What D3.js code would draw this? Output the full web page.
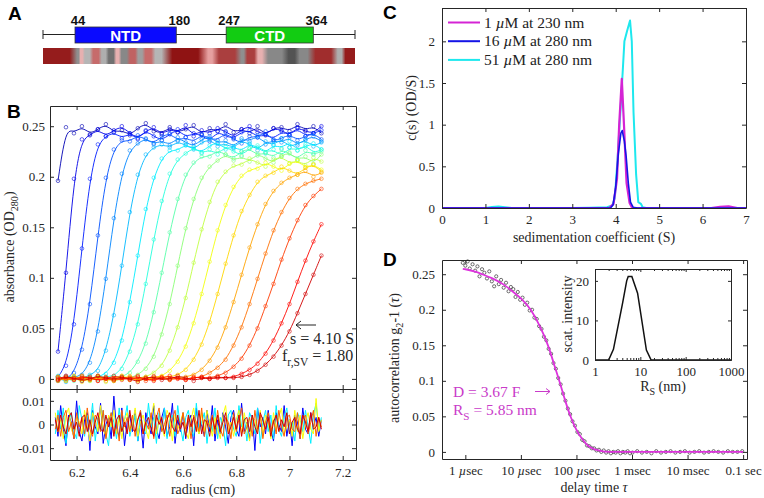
<!DOCTYPE html>
<html>
<head>
<meta charset="utf-8">
<script src="https://cdn.jsdelivr.net/npm/d3@7"></script>
<style>
  body { margin: 0; background: #fff; }
  svg { display: block; }
</style>
</head>
<body>
<div id="fig"></div>
<script>
// ---------- A: domain map + disorder bar ----------
const proteinLength = 420
const domainNames = ["NTD", "CTD"]
const domainStart = [44, 247]
const domainEnd = [180, 364]
const disorderBreaks = [1, 46, 50, 55, 66, 78, 87, 98, 104, 116, 127, 136, 149, 163, 221, 230, 266, 272, 288, 297, 328, 342, 360, 395, 404, 420]
const disorderScore = [0.9, -0.45, 0.1, -0.2, 0.45, -0.25, -0.65, 0.1, -0.5, 0.5, -0.35, 0.45, -0.2, 0.95, 0.15, 0.7, -0.45, 0.7, 0.1, -0.5, -0.85, -0.5, 0.8, -0.25, 0.9]

// ---------- B: sedimentation velocity scans (absorbance in milli-OD) ----------
const scanRadius = [6.13, 6.16, 6.19, 6.22, 6.25, 6.28, 6.31, 6.34, 6.37, 6.40, 6.43, 6.46, 6.49, 6.52, 6.55, 6.58, 6.61,
  6.64, 6.67, 6.70, 6.73, 6.76, 6.79, 6.82, 6.85, 6.88, 6.91, 6.94, 6.97, 7.00, 7.03, 7.06, 7.09, 7.12]
const scanMilliOD = [
  [196,249,243,250,242,247,252,244,246,241,248,253,245,243,249,244,247,251,242,248,245,252,244,247,243,250,241,248,249,245,252,246,250,243],
  [27,105,198,237,241,247,240,246,250,243,238,245,249,242,247,244,251,240,246,243,248,245,239,247,250,244,242,248,246,241,249,245,243,250],
  [2,13,54,129,198,232,240,244,238,243,237,246,240,236,242,247,239,243,241,235,245,240,238,244,246,239,242,237,245,241,248,240,243,246],
  [2,-1,6,29,74,142,199,227,236,235,241,237,233,240,243,236,239,234,242,238,236,244,237,233,240,239,245,235,238,242,236,240,243,237],
  [-2,3,1,4,16,47,99,159,203,226,233,238,232,236,231,239,234,230,237,240,233,236,229,238,235,241,232,236,234,239,231,237,240,235],
  [1,-3,2,0,4,8,28,63,112,165,202,222,229,232,229,235,231,227,234,237,230,233,228,236,232,226,235,231,238,229,233,236,230,234],
  [3,-1,2,-2,1,2,5,16,38,76,122,168,199,218,226,226,232,228,224,231,234,227,230,225,233,229,223,232,228,235,226,230,233,227],
  [-1,2,0,3,-2,1,2,3,10,27,54,94,138,176,203,217,223,229,223,227,222,230,225,221,228,231,224,227,220,229,226,232,223,227],
  [2,0,-2,1,3,-1,0,2,2,6,17,35,66,105,145,178,202,214,220,220,226,222,218,225,228,221,224,219,227,223,217,226,222,225],
  [1,-2,2,0,-1,3,1,-2,0,1,4,10,22,44,74,112,149,178,199,210,216,222,216,220,215,223,218,214,221,224,217,220,213,222],
  [-2,1,3,-1,0,2,-3,1,2,-1,1,2,6,13,28,51,80,115,148,175,195,205,211,212,218,214,210,217,220,213,216,211,219,215],
  [2,-1,0,3,-2,1,0,-1,3,1,-2,0,1,3,8,17,32,55,84,116,147,172,190,201,207,208,214,210,206,213,216,209,212,207],
  [-1,2,1,-3,0,2,1,-2,0,3,-1,1,0,2,2,4,9,19,34,56,84,114,142,166,182,195,201,204,210,206,202,209,212,205],
  [1,-2,3,0,-1,2,-2,1,3,-1,0,2,-1,1,0,1,2,4,9,18,31,51,76,103,130,153,173,186,194,199,202,206,200,204],
  [-2,1,0,2,-1,3,0,-2,1,2,-1,0,3,1,-1,1,0,1,2,6,11,19,33,51,74,99,124,147,165,179,188,193,196,198],
  [2,0,-1,3,1,-2,2,0,-1,1,3,-2,0,2,-1,1,-1,2,1,1,3,6,12,20,33,50,72,94,118,139,157,172,181,188],
  [0,3,-1,1,2,-2,0,3,1,-1,2,0,-2,1,3,0,-1,1,2,0,1,1,2,5,9,15,25,38,55,74,96,117,136,153],
  [-1,2,1,-2,0,3,1,-1,2,0,-3,1,2,-1,0,3,1,-2,1,0,2,1,1,2,4,8,14,22,33,47,65,84,103,122]
]
// residuals (milli-OD) on a 0.01 cm grid starting at 6.12 cm
const residualStart = 6.12, residualStep = 0.01
const resBlue = [3,-5,8,-2,-9,4,1,-6,10,-3,-7,2,5,-11,6,-1,-4,9,-8,0,3,-6,12,-2,-5,7,-9,1,4,-3,6,-7,2,-10,5,0,-4,8,-2,-6,3,7,-5,-1,9,-8,2,-3,5,-6,1,4,-9,7,-2,0,-5,6,-3,8,-7,2,-4,5,-1,-8,3,6,-2,-5,9,-3,1,-6,4,-11,7,-1,3,-4,6,-2,-7,5,0,-3,8,-5,2,-9,4,1,-6,7,-2,-4,5,-1,3,-5,2]
const resCyan = [-4,6,-2,7,-8,1,5,-3,-6,8,2,-5,4,-1,9,-7,3,-2,6,-4,-9,5,1,-6,7,-3,2,8,-5,0,4,-7,6,-2,-4,9,-1,3,-8,5,-3,7,-6,2,4,-5,8,-1,-7,3,6,-2,-5,9,-4,1,5,-8,2,-3,7,-6,3,0,-9,4,6,-2,-5,8,-1,3,-7,5,2,-4,7,-8,1,6,-3,4,-6,8,-2,-5,3,7,-4,1,-7,5,2,-3,6,-1,-8,4,9,-2,3]
const resYellow = [5,-3,2,-6,4,7,-2,-5,3,1,-4,6,-1,-7,5,2,-3,8,-2,-5,4,-1,6,-4,3,-6,2,5,-3,0,7,-5,1,4,-2,-6,3,9,-4,2,-1,-5,6,3,-7,4,-2,1,5,-3,-6,2,7,-1,-4,5,-3,6,1,-5,3,-2,-6,4,8,-3,1,-5,2,6,-4,5,-1,-7,3,2,-3,6,-5,4,1,-6,5,-2,3,7,-4,-1,2,-5,6,-3,4,-6,1,5,-2,-4,11,-3,2]
const resOrange = [-2,4,-5,3,6,-3,1,-6,5,-1,3,-4,7,-2,-5,4,2,-3,6,-6,1,5,-4,2,-7,6,-1,3,-3,4,-5,2,6,-4,1,-2,5,-6,3,7,-3,0,4,-5,2,6,-4,-1,5,-2,3,-6,4,1,-3,7,-5,2,-1,4,-4,6,-2,-5,3,1,-6,5,-3,2,7,-4,-1,3,-5,6,-2,4,-6,1,5,-3,2,-4,6,-1,-5,3,4,-2,-3,5,-6,2,4,-4,1,6,-5,3,-1]
const resRed = [2,-3,4,-1,-4,3,5,-2,1,-5,3,4,-3,2,-4,1,5,-2,-3,4,-1,3,-5,2,4,-3,1,-4,6,-2,-3,2,5,-4,1,3,-2,-5,4,0,3,-4,2,5,-1,-3,4,-2,1,-5,4,-1,3,-3,6,-4,2,1,-5,3,-2,4,-3,1,5,-4,-1,3,-2,4,-5,2,3,-3,4,-1,-4,5,2,-2,3,-5,1,4,-3,2,-1,5,-4,1,3,-2,-4,4,1,-3,5,-2,-1,3,-2]
const residualSeries = [resBlue, resCyan, resYellow, resOrange, resRed]

// ---------- C: c(s) distributions ----------
const csLabels = ["1 µM at 230 nm", "16 µM at 280 nm", "51 µM at 280 nm"]
const csMagentaS = [0, 3.85, 3.95, 4.03, 4.08, 4.14, 4.19, 4.25, 4.32, 4.38, 6.2, 6.4, 6.6, 6.8, 7]
const csMagentaC = [0, 0, 0.05, 0.35, 1.0, 1.55, 1.0, 0.3, 0.06, 0, 0, 0.015, 0.02, 0, 0]
const csBlueS = [0, 3.88, 3.94, 4.0, 4.06, 4.12, 4.15, 4.2, 4.24, 4.29, 4.34, 4.4, 4.5, 7]
const csBlueC = [0, 0, 0.04, 0.25, 0.65, 0.9, 0.93, 0.8, 0.62, 0.3, 0.07, 0.01, 0, 0]
const csCyanS = [0, 1.0, 1.15, 1.3, 1.45, 1.6, 3.0, 3.4, 3.8, 3.92, 3.98, 4.05, 4.13, 4.2, 4.26, 4.33, 4.37, 4.41, 4.47, 4.52, 4.58, 4.62, 4.7, 7]
const csCyanC = [0, 0, 0.012, 0.018, 0.01, 0, 0, 0.004, 0.01, 0.03, 0.12, 0.65, 1.35, 2.0, 2.12, 2.25, 2.0, 1.15, 0.4, 0.07, 0.05, 0.01, 0, 0]

// ---------- D: DLS autocorrelation ----------
const dlsTauUs = [0.9,1.0,1.1,1.2,1.35,1.5,1.65,1.8,2.0,2.2,2.45,2.7,3.0,3.3,3.6,4.0,4.4,4.9,5.4,6.0,
  6.6,7.3,8.0,8.8,9.7,10.7,11.8,13,14.4,15.9,17.5,19.3,21.3,23.5,26,28.7,31.6,35,38.6,42.6,
  47,52,57.4,63.4,70,77,85,94,104,115,127,140,155,171,189,208,230,254,280,310,
  342,378,417,460,508,560,620,685,757,836,923,1020,1240,1510,1840,2240,2730,3330,4060,4950,
  6030,7350,8950,10900,13300,16200,19800,24100,29400,35800,43700,53200,64900,79100,96400]
const dlsG2 = [.266,.262,.268,.258,.264,.255,.261,.247,.257,.252,.244,.254,.240,.233,.247,.236,.242,.231,.238,.226,
  .232,.229,.218,.225,.214,.217,.207,.210,.199,.200,.189,.187,.177,.173,.162,.157,.145,.138,.125,.117,
  .104,.095,.082,.072,.061,.053,.043,.037,.028,.025,.017,.015,.009,.008,.005,.005,.002,.003,.000,.002,
  -.001,.001,-.002,.000,-.001,.001,-.002,.000,-.001,.001,-.002,-.001,.001,-.001,.000,-.002,.001,-.001,.000,.001,
  -.001,.000,.001,-.001,.000,.001,-.001,.000,.001,.000,-.001,.001,.000,.000,.001]
const fitTauUs = [0.9,1,1.5,2,3,5,7,10,15,20,25,32,40,50,64,80,100,130,160,200,250,320,500,1000,100000]
const fitG2 = [.2575,.257,.2535,.25,.2445,.235,.226,.216,.2,.183,.167,.146,.122,.098,.07,.048,.031,.017,.009,.0045,.002,.0005,0,0,0]
const tauTickUs = [1, 10, 100, 1000, 10000, 100000]
const tauTickLabels = ["1 µsec", "10 µsec", "100 µsec", "1 msec", "10 msec", "0.1 sec"]
const sizeRs = [1, 2.0, 2.55, 4.05, 5.0, 5.4, 6.5, 8.7, 13.6, 17.3, 1000]
const sizeIntensity = [0, 0, 2.7, 14.3, 20, 21.1, 21.1, 16.9, 2.5, 0, 0]

// ---------------------------------------------------------------
const W = 764, H = 498
const serif = "'Liberation Serif', 'Times New Roman', serif"
const sans = "'Liberation Sans', Arial, sans-serif"
const axisColor = "#262626"
const magenta = "#dd33dd"

const svg = d3.select("#fig").append("svg").attr("width", W).attr("height", H)
svg.append("rect").attr("width", W).attr("height", H).attr("fill", "#fff")
const defs = svg.append("defs")

function jet(t) {
  const c = v => Math.round(255 * Math.max(0, Math.min(1, v)))
  return d3.rgb(c(1.5 - Math.abs(4 * t - 3)), c(1.5 - Math.abs(4 * t - 2)), c(1.5 - Math.abs(4 * t - 1))).formatHex()
}

// text with subscripts / italics: parts = [[text, kind]]
function rich(t, parts, size) {
  let shift = 0
  parts.forEach(([s, kind]) => {
    const ts = t.append("tspan").text(s)
    const want = kind === "sub" ? size * 0.3 : 0
    if (want !== shift) { ts.attr("dy", want - shift); shift = want }
    if (kind === "sub") ts.attr("font-size", size * 0.72)
    if (kind === "it") ts.attr("font-style", "italic")
  })
  return t
}
function label(x, y, size, opts = {}) {
  const t = svg.append("text").attr("x", x).attr("y", y)
    .attr("font-family", opts.family || serif).attr("font-size", size)
    .attr("fill", opts.fill || axisColor).attr("text-anchor", opts.anchor || "start")
  if (opts.rotate) t.attr("transform", `rotate(-90,${x},${y})`)
  return t
}
function panelLetter(x, y, s) {
  svg.append("text").attr("x", x).attr("y", y).attr("font-family", sans)
    .attr("font-weight", "bold").attr("font-size", 19).attr("fill", "#000").text(s)
}

// MATLAB-like boxed axes, ticks pointing inward on all four sides
function boxAxes(x, y, o) {
  const [xa, xb] = x.range(), [ya, yb] = y.range()
  const t = o.tick || 4
  const none = () => ""
  const g = svg.append("g").attr("color", axisColor)
  g.append("g").attr("transform", `translate(0,${ya})`)
    .call(d3.axisBottom(x).tickValues(o.xTicks).tickSize(-t).tickSizeOuter(0)
      .tickPadding(o.xPad || 7).tickFormat(o.xLabels === false ? none : (o.xFormat || String)))
  g.append("g").attr("transform", `translate(0,${yb})`)
    .call(d3.axisTop(x).tickValues(o.xTicks).tickSize(-t).tickSizeOuter(0).tickFormat(none))
  g.append("g").attr("transform", `translate(${xa},0)`)
    .call(d3.axisLeft(y).tickValues(o.yTicks).tickSize(-t).tickSizeOuter(0)
      .tickPadding(o.yPad || 6).tickFormat(o.yFormat || String))
  g.append("g").attr("transform", `translate(${xb},0)`)
    .call(d3.axisRight(y).tickValues(o.yTicks).tickSize(-t).tickSizeOuter(0).tickFormat(none))
  g.selectAll("text").attr("font-family", serif).attr("font-size", o.fontSize || 13).attr("fill", axisColor)
  return g
}

// ================= Panel A =================
panelLetter(8, 20, "A")
const xRes = d3.scaleLinear().domain([1, proteinLength]).range([43, 355])
svg.append("line").attr("x1", xRes(1)).attr("x2", xRes(proteinLength))
  .attr("y1", 34.5).attr("y2", 34.5).attr("stroke", "#222")
;[1, proteinLength].forEach(r => svg.append("line").attr("x1", xRes(r)).attr("x2", xRes(r))
  .attr("y1", 30).attr("y2", 39).attr("stroke", "#222"))
const domainFill = ["#0a0aff", "#12cc12"]
domainNames.forEach((n, i) => {
  const x0 = xRes(domainStart[i]), x1 = xRes(domainEnd[i])
  svg.append("rect").attr("x", x0).attr("y", 27).attr("width", x1 - x0).attr("height", 16)
    .attr("fill", domainFill[i]).attr("stroke", "#333").attr("stroke-width", 0.8)
  label((x0 + x1) / 2, 40.5, 15, { family: sans, fill: "#fff", anchor: "middle" })
    .attr("font-weight", "bold").text(n)
  ;[[domainStart[i], x0 + 3], [domainEnd[i], x1 + 3]].forEach(([v, xx]) =>
    label(xx, 25, 13, { family: sans, fill: "#111", anchor: "middle" }).attr("font-weight", "bold").text(v))
})
const disorderColor = d3.scaleLinear().domain([-1, -0.15, 0, 0.15, 1])
  .range(["#3c3c3c", "#bdbdbd", "#ead0d0", "#e6a0a0", "#8a0a0a"])
const grad = defs.append("linearGradient").attr("id", "disorderGrad").attr("gradientUnits", "userSpaceOnUse")
  .attr("x1", xRes(1)).attr("x2", xRes(proteinLength)).attr("y1", 0).attr("y2", 0)
disorderScore.forEach((s, i) => {
  const a = disorderBreaks[i], b = disorderBreaks[i + 1], pad = (b - a) * 0.2
  ;[a + pad, b - pad].forEach(r => grad.append("stop")
    .attr("offset", (r - 1) / (proteinLength - 1)).attr("stop-color", disorderColor(s)))
})
svg.append("rect").attr("x", xRes(1)).attr("y", 48).attr("width", xRes(proteinLength) - xRes(1))
  .attr("height", 16).attr("fill", "url(#disorderGrad)")

// ================= Panel B =================
panelLetter(7, 118, "B")
const xB = d3.scaleLinear().domain([6.1, 7.25]).range([50, 356])
const yB = d3.scaleLinear().domain([-0.01, 0.27]).range([389, 106])
const yR = d3.scaleLinear().domain([-0.015, 0.015]).range([460, 389])
defs.append("clipPath").attr("id", "clipB").append("rect").attr("x", 50).attr("y", 106).attr("width", 306).attr("height", 283)
defs.append("clipPath").attr("id", "clipR").append("rect").attr("x", 50).attr("y", 389).attr("width", 306).attr("height", 71)

const gScans = svg.append("g").attr("clip-path", "url(#clipB)")
const scanLine = d3.line().x((d, k) => xB(scanRadius[k])).y(d => yB(d / 1000)).curve(d3.curveBasis)
scanMilliOD.forEach((scan, i) => {
  const col = jet(0.05 + i * 0.87 / (scanMilliOD.length - 1))
  const g = gScans.append("g")
  g.selectAll("circle").data(scan).join("circle")
    .attr("cx", (d, k) => xB(scanRadius[k])).attr("cy", d => yB(d / 1000)).attr("r", 1.8)
    .attr("fill", "none").attr("stroke", col).attr("stroke-width", 0.7).attr("opacity", 0.85)
  g.append("path").datum(scan).attr("d", scanLine).attr("fill", "none")
    .attr("stroke", col).attr("stroke-width", 0.9)
})

const resColorT = [0.12, 0.36, 0.62, 0.78, 0.92]
const resLine = d3.line().x((d, k) => xB(residualStart + k * residualStep)).y(d => yR(d / 1000))
const gRes = svg.append("g").attr("clip-path", "url(#clipR)")
residualSeries.forEach((s, i) => gRes.append("path").datum(s).attr("d", resLine)
  .attr("fill", "none").attr("stroke", jet(resColorT[i])).attr("stroke-width", 1))

boxAxes(xB, yB, { xTicks: [6.2, 6.4, 6.6, 6.8, 7, 7.2], yTicks: [0, 0.05, 0.1, 0.15, 0.2, 0.25], xLabels: false, yPad: 5 })
boxAxes(xB, yR, { xTicks: [6.2, 6.4, 6.6, 6.8, 7, 7.2], yTicks: [-0.01, 0, 0.01], xPad: 8, yPad: 5 })

rich(label(14, 247, 14, { anchor: "middle", rotate: true }), [["absorbance (OD"], ["280", "sub"], [")"]], 14)
label(203, 494, 14, { anchor: "middle" }).text("radius (cm)")
svg.append("path").attr("d", "M316,325H296M301,321L296,325L301,329").attr("fill", "none").attr("stroke", "#222")
label(290, 344, 16).text("s = 4.10 S")
rich(label(282, 361, 16), [["f"], ["r,SV", "sub"], [" = 1.80"]], 16)

// ================= Panel C =================
panelLetter(383, 19, "C")
const xC = d3.scaleLinear().domain([0, 7]).range([442, 746])
const yC = d3.scaleLinear().domain([0, 2.4]).range([208, 8])
const csLine = (S) => d3.line().x((d, k) => xC(S[k])).y(d => yC(d))
const csSeries = [
  { s: csCyanS, c: csCyanC, color: "#1ee8ee", w: 2 },
  { s: csMagentaS, c: csMagentaC, color: "#d424d4", w: 2.2 },
  { s: csBlueS, c: csBlueC, color: "#1414e6", w: 1.6 }
]
csSeries.forEach(d => svg.append("path").datum(d.c).attr("d", csLine(d.s))
  .attr("fill", "none").attr("stroke", d.color).attr("stroke-width", d.w).attr("stroke-linejoin", "round"))
boxAxes(xC, yC, { xTicks: d3.range(0, 8), yTicks: [0, 0.5, 1, 1.5, 2], yPad: 7, xPad: 7 })
label(594, 242, 14, { anchor: "middle" }).text("sedimentation coefficient (S)")
label(416, 108, 14, { anchor: "middle", rotate: true }).text("c(s) (OD/S)")
const legendColors = ["#d424d4", "#1414e6", "#1ee8ee"]
csLabels.forEach((lab, i) => {
  const yy = 22.5 + i * 18.7
  svg.append("line").attr("x1", 448).attr("x2", 480).attr("y1", yy).attr("y2", yy)
    .attr("stroke", legendColors[i]).attr("stroke-width", 2)
  const parts = lab.split("µ")
  rich(label(484, yy + 5, 15.5).attr("fill", "#222"), [[parts[0]], ["µ", "it"], [parts[1]]], 15.5)
})

// ================= Panel D =================
panelLetter(383, 266, "D")
const xD = d3.scaleLog().domain([Math.pow(10, -0.42), Math.pow(10, 5.07)]).range([442, 747])
const yD = d3.scaleLinear().domain([-0.01, 0.27]).range([459, 260])
svg.append("g").selectAll("circle").data(dlsG2).join("circle")
  .attr("cx", (d, k) => xD(dlsTauUs[k])).attr("cy", d => yD(d)).attr("r", 1.6)
  .attr("fill", "none").attr("stroke", "#333").attr("stroke-width", 0.7)
svg.append("path").datum(fitG2)
  .attr("d", d3.line().x((d, k) => xD(fitTauUs[k])).y(d => yD(d)).curve(d3.curveMonotoneX))
  .attr("fill", "none").attr("stroke", magenta).attr("stroke-width", 1.8)
const gD = boxAxes(xD, yD, { xTicks: tauTickUs, yTicks: [0, 0.05, 0.1, 0.15, 0.2, 0.25], yPad: 7, xPad: 7,
  xFormat: d => tauTickLabels[tauTickUs.indexOf(d)] })
gD.selectAll("g.tick text").each(function () {
  const s = d3.select(this).text()
  if (s.includes("µ")) {
    const p = s.split("µ")
    d3.select(this).text(null)
    rich(d3.select(this), [[p[0]], ["µ", "it"], [p[1]]], 13)
  }
})
rich(label(594, 492, 14, { anchor: "middle" }), [["delay time "], ["τ", "it"]], 14)
rich(label(399, 358, 14, { anchor: "middle", rotate: true }), [["autocorrelation g"], ["2", "sub"], ["-1 ("], ["τ", "it"], [")"]], 14)
label(453, 397, 15.5, { fill: "#c93ac9" }).text("D = 3.67 F")
rich(label(453, 415, 15.5, { fill: "#c93ac9" }), [["R"], ["S", "sub"], [" = 5.85 nm"]], 15.5)
svg.append("path").attr("d", "M535,391.5H550M546,388.5L550,391.5L546,394.5").attr("fill", "none").attr("stroke", "#c93ac9")

// inset: size distribution
const xI = d3.scaleLog().domain([1, 1000]).range([595, 731])
const yI = d3.scaleLinear().domain([0, 23]).range([360, 269])
svg.append("rect").attr("x", 595).attr("y", 269).attr("width", 136).attr("height", 91).attr("fill", "#fff")
svg.append("path").datum(sizeIntensity)
  .attr("d", d3.line().x((d, k) => xI(sizeRs[k])).y(d => yI(d)))
  .attr("fill", "none").attr("stroke", "#111").attr("stroke-width", 1.5)
const minorTicks = [1, 10, 100].flatMap(p => d3.range(2, 10).map(m => m * p))
const gMinor = svg.append("g").attr("color", axisColor)
gMinor.append("g").attr("transform", "translate(0,360)")
  .call(d3.axisBottom(xI).tickValues(minorTicks).tickSize(-2).tickSizeOuter(0).tickFormat(() => ""))
gMinor.append("g").attr("transform", "translate(0,269)")
  .call(d3.axisTop(xI).tickValues(minorTicks).tickSize(-2).tickSizeOuter(0).tickFormat(() => ""))
boxAxes(xI, yI, { xTicks: [1, 10, 100, 1000], yTicks: [0, 10, 20], tick: 3, xPad: 7, yPad: 6 })
rich(label(663, 391, 14, { anchor: "middle" }), [["R"], ["S", "sub"], [" (nm)"]], 14)
label(572, 314, 14, { anchor: "middle", rotate: true }).text("scat. intensity")
</script>
</body>
</html>
